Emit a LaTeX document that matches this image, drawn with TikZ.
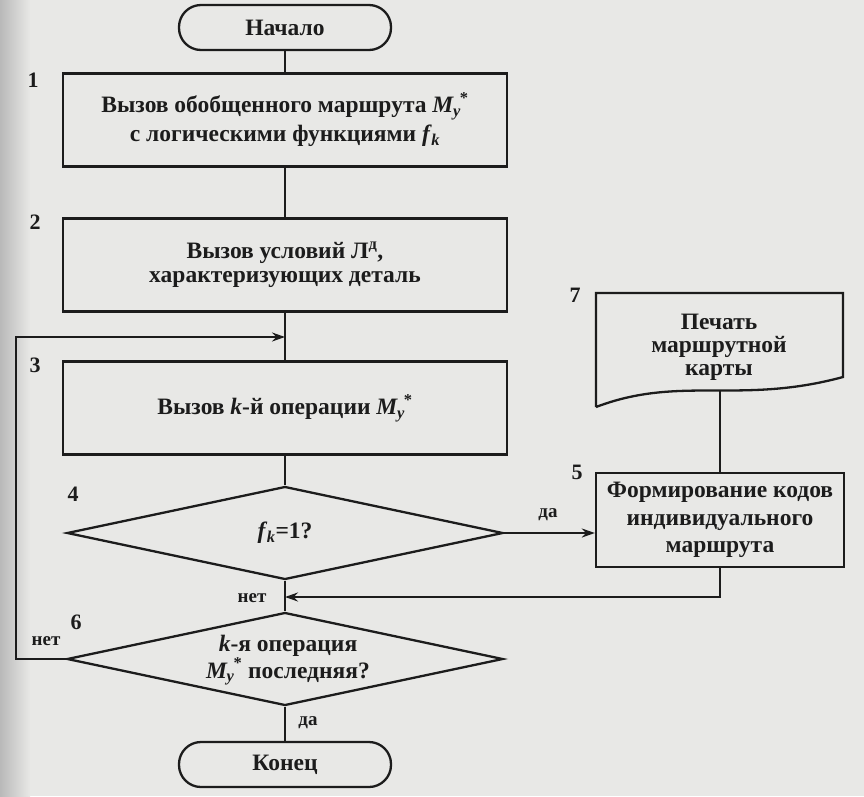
\documentclass[tikz,border=0pt]{standalone}
\usepackage{fontspec}
\setmainfont{Liberation Serif}
\usetikzlibrary{shapes.geometric,arrows.meta}
\definecolor{ink}{HTML}{1C1C1C}
\definecolor{paper}{HTML}{E8E8E6}
\newcommand{\My}{\textit{M}\kern-1pt\textsubscript{\textit{y}}\kern-1pt\textsuperscript{*}}
\newcommand{\fk}{\textit{f}\kern-0.5pt\textsubscript{\textit{k}}}
\tikzset{
  line/.style={draw=ink, line width=2.3pt},
  proc/.style={line, rectangle, minimum width=444pt, minimum height=93pt, align=center, inner sep=0pt},
  term/.style={line, rectangle, rounded corners=22pt, minimum width=212pt, minimum height=45pt, inner sep=0pt},
  dec/.style={line, diamond, minimum width=436pt, minimum height=93pt, inner sep=0pt},
  txt/.style={align=center, inner sep=0pt},
  arr/.style={line, -{Stealth[length=13pt,width=9pt]}},
  num/.style={inner sep=0pt, font=\fontsize{22}{26}\selectfont\bfseries},
  lab/.style={inner sep=0pt, font=\fontsize{19}{22}\selectfont\bfseries},
}
\begin{document}
\begin{tikzpicture}[x=1pt,y=-1pt, font=\fontsize{23.5}{27}\selectfont\bfseries, text=ink]
\useasboundingbox (0,0) rectangle (864,796);
\fill[paper] (0,0) rectangle (864,796);
\shade[left color=gray!55, right color=paper] (0,0) rectangle (30,796);

% nodes
\node[term] (start) at (285,27.5) {Начало};
\node[proc, font=\fontsize{23.5}{29}\selectfont\bfseries] (b1) at (285,120) {Вызов обобщенного маршрута \My\\с логическими функциями \fk};
\node[proc, font=\fontsize{23.5}{24}\selectfont\bfseries] (b2) at (285,265) {Вызов условий Л\textsuperscript{д},\\характеризующих деталь};
\node[proc] (b3) at (285,408) {Вызов \textit{k}-й операции \My};
\node[dec] (d4) at (285,533) {};
\node[txt] (t4) at (285,533) {\fk=1?};
\node[dec] (d6) at (285,659) {};
\node[txt, font=\fontsize{23.5}{27}\selectfont\bfseries] (t6) at (288,660) {\textit{k}-я операция\\\My{} последняя?};
\node[term] (end) at (285,764.5) {Конец};
\node[proc, minimum width=248pt, minimum height=94pt, font=\fontsize{23.5}{27.5}\selectfont\bfseries] (b5) at (720,520) {Формирование кодов\\индивидуального\\маршрута};
\node[txt, font=\fontsize{23.5}{23}\selectfont\bfseries] (b7) at (719,347) {Печать\\маршрутной\\карты};
\draw[line, line join=miter] (596,407) -- (596,293) -- (843,293) -- (843,377)
  .. controls (740,405) and (680,375) .. (596,407);
\coordinate (b7b) at (720,391);

% numbers
\node[num] (n1) at (33,80) {1};
\node[num] (n2) at (35,222) {2};
\node[num] (n3) at (35,365) {3};
\node[num] (n4) at (73,494) {4};
\node[num] (n5) at (577,472) {5};
\node[num] (n6) at (76,622) {6};
\node[num] (n7) at (575,295) {7};

% junction coordinates
\coordinate (j1) at (285,337);
\coordinate (lt) at (16,337);
\coordinate (j2) at (285,597);

% connectors
\draw[line] (start.south) -- (b1.north);
\draw[line] (b1.south) -- (b2.north);
\draw[line] (b2.south) -- (b3.north);
\draw[line] (b3.south) -- (d4.north);
\draw[line] (d4.south) -- (d6.north);
\draw[line] (d6.south) -- (end.north);
\draw[arr] (d4.east) -- (d4.east -| b5.west);
\draw[line] (b7b) -- (b5.north);
\draw[arr] (b5.south) |- (j2);
\draw[arr, line join=miter] (d6.west) -| (lt) -- (j1);

% branch labels
\node[lab] (l1) at (548,515) {да};
\node[lab] (l2) at (252,598) {нет};
\node[lab] (l3) at (46,641) {нет};
\node[lab] (l4) at (308,723) {да};
\end{tikzpicture}
\end{document}
